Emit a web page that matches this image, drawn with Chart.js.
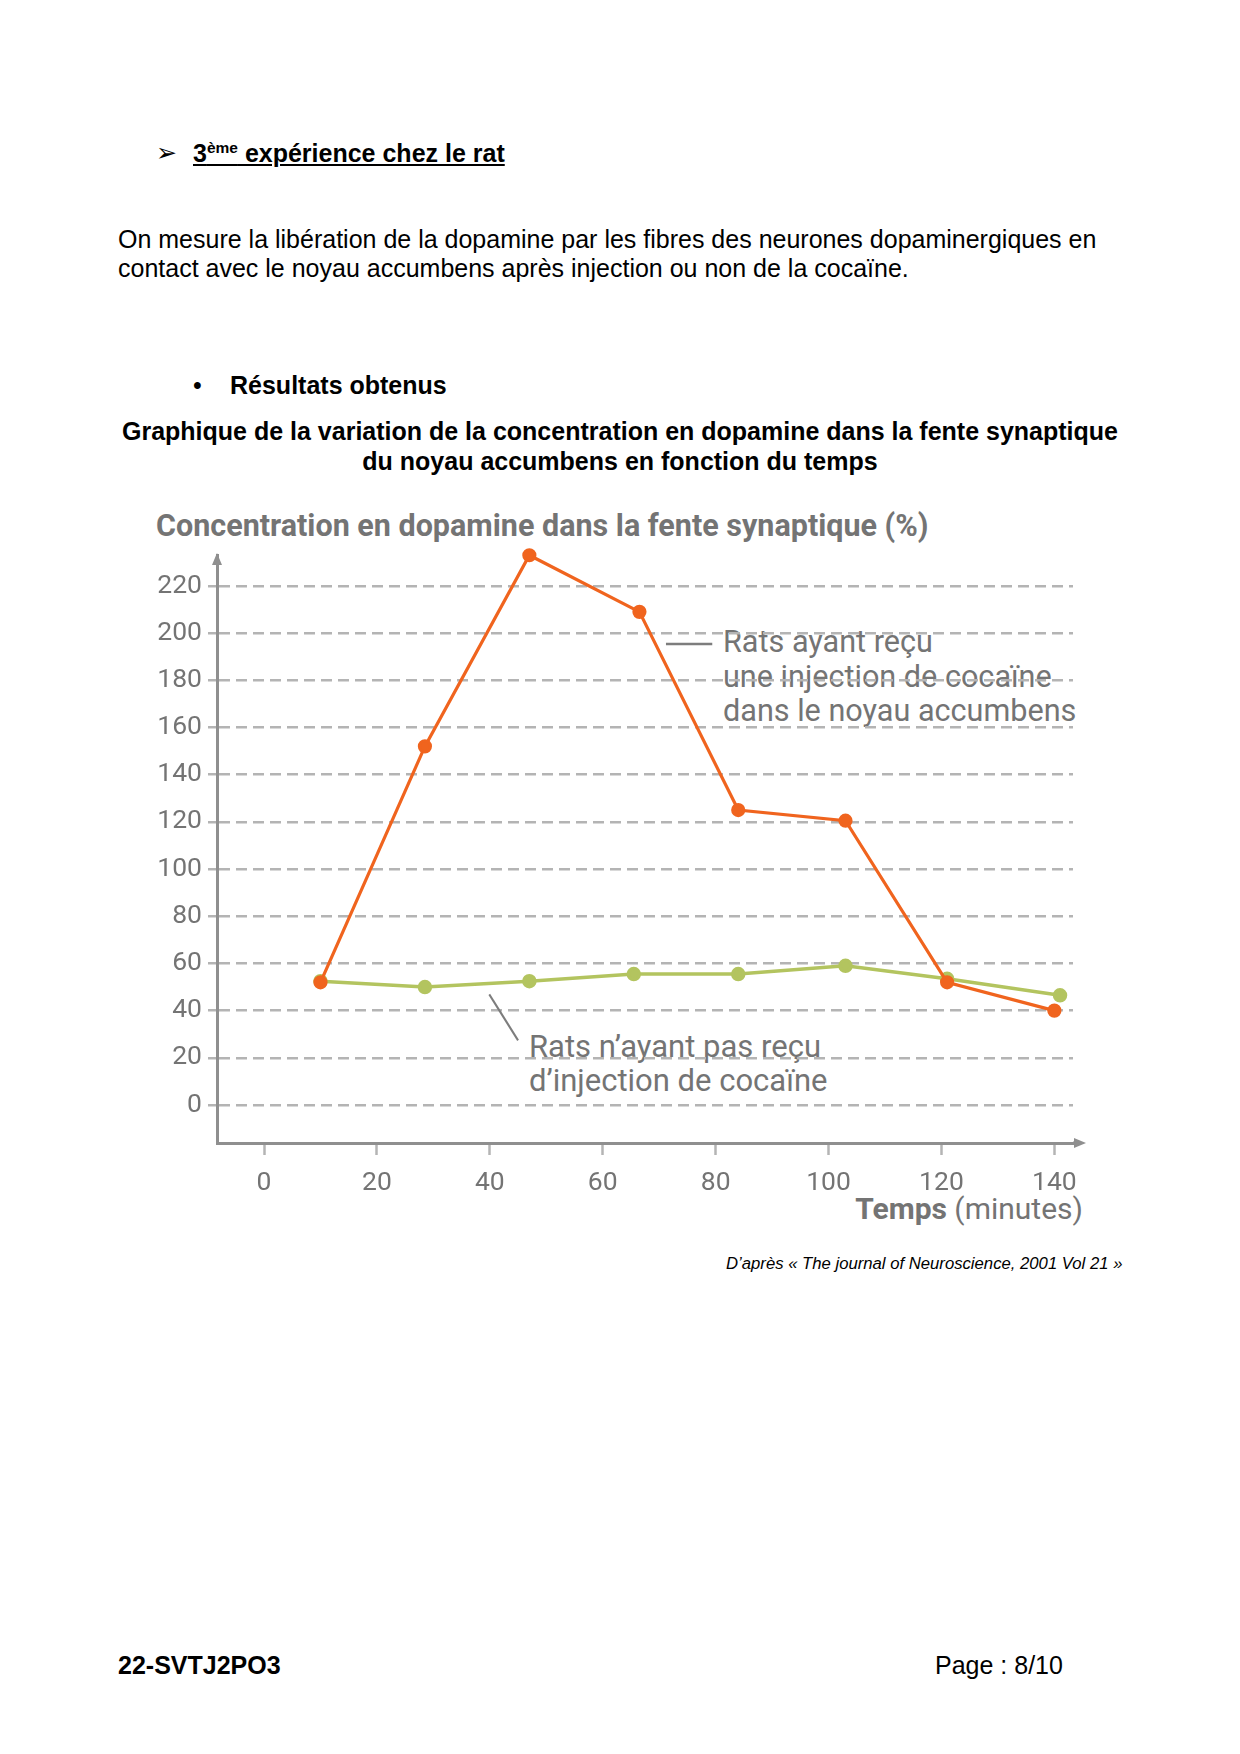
<!DOCTYPE html>
<html lang="fr">
<head>
<meta charset="utf-8">
<title>Dopamine - noyau accumbens</title>
<script src="https://cdn.jsdelivr.net/npm/chart.js@4.4.1/dist/chart.umd.min.js"></script>
<style>
  html, body { margin: 0; padding: 0; background: #fff; }
  body { width: 1240px; height: 1754px; position: relative; font-family: "Liberation Sans", Arial, sans-serif; color: #000; }
  .abs { position: absolute; white-space: nowrap; }
  .page { font-size: 25px; line-height: 1.15; }
  .chartTxt { font-family: Roboto, "Noto Sans", sans-serif; color: #747474; }
  #chartBox { position: absolute; left: 100px; top: 540px; width: 1000px; height: 663px; }
</style>
</head>
<body>

<!-- en-tete de la page -->
<div class="abs page" style="left:156px; top:138px; font-size:25px;">&#10146;</div>
<div class="abs page" style="left:193px; top:139px; font-weight:bold; text-decoration:underline;">3<sup style="font-size:15.5px; line-height:0;">ème</sup> expérience chez le rat</div>

<div class="abs page" style="left:118px; top:225px; line-height:29px; white-space:normal; width:1050px;">
  On mesure la libération de la dopamine par les fibres des neurones dopaminergiques en<br>
  contact avec le noyau accumbens après injection ou non de la cocaïne.
</div>

<div class="abs page" style="left:193px; top:370.5px;">&bull;</div>
<div class="abs page" style="left:230px; top:370.5px; font-weight:bold;">Résultats obtenus</div>

<div class="abs page" style="left:0; width:1240px; top:417px; line-height:29.5px; text-align:center; font-weight:bold;">
  Graphique de la variation de la concentration en dopamine dans la fente synaptique<br>
  du noyau accumbens en fonction du temps
</div>

<!-- textes du graphique -->
<div class="abs chartTxt" style="left:156px; top:508px; font-size:30.5px; line-height:1.172; font-weight:bold;">Concentration en dopamine dans la fente synaptique (%)</div>

<div class="abs chartTxt" style="left:723px; top:625px; font-size:30.6px; line-height:34.5px;">
  Rats ayant reçu<br>une injection de cocaïne<br>dans le noyau accumbens
</div>
<div class="abs chartTxt" style="left:529px; top:1030px; font-size:31px; line-height:34px;">
  Rats n’ayant pas reçu<br>d’injection de cocaïne
</div>
<div class="abs chartTxt" style="right:157px; top:1191px; font-size:30px; line-height:1.172;"><b>Temps</b> (minutes)</div>

<div id="chartBox"><canvas id="graphe"></canvas></div>

<!-- bas de page -->
<div class="abs" style="left:726px; top:1254px; font-size:16.7px; line-height:1.15; font-style:italic;">D’après « The journal of Neuroscience, 2001 Vol 21 »</div>
<div class="abs page" style="left:118px; top:1651px; font-weight:bold;">22-SVTJ2PO3</div>
<div class="abs page" style="left:935px; top:1651px;">Page : 8/10</div>

<script>
// --- Donnees ---
const tempsCocaine = [10, 28.5, 47, 66.5, 84, 103, 121, 140];
const dopamineCocaine = [52, 152, 233, 209, 125, 120.5, 52, 40];

const tempsTemoin = [10, 28.5, 47, 65.5, 84, 103, 121, 141];
const dopamineTemoin = [52.5, 50, 52.5, 55.5, 55.5, 59, 53.5, 46.5];

const ticksX = [0, 20, 40, 60, 80, 100, 120, 140];
const ticksY = [0, 20, 40, 60, 80, 100, 120, 140, 160, 180, 200, 220];

const orange = '#f0641e';
const vert = '#b3c45f';
const grisAxe = '#8f8f8f';
const grisGrille = '#b4b4b4';
const grisTexte = '#747474';

function points(xs, ys) {
    return xs.map(function(x, i) { return { x: x, y: ys[i] }; });
}

// fleches des axes + traits de rappel des legendes
const decorAxes = {
    id: 'decorAxes',
    afterDraw: function(chart) {
        const ctx = chart.ctx;
        const a = chart.chartArea;
        const sx = chart.scales.x;
        const sy = chart.scales.y;
        ctx.save();
        ctx.strokeStyle = grisAxe;
        ctx.fillStyle = grisAxe;
        ctx.lineWidth = 3;
        // prolongement de l'axe des x
        ctx.beginPath();
        ctx.moveTo(a.right, a.bottom);
        ctx.lineTo(a.right + 8, a.bottom);
        ctx.stroke();
        // fleche x
        ctx.beginPath();
        ctx.moveTo(a.right + 13, a.bottom);
        ctx.lineTo(a.right + 1, a.bottom - 5);
        ctx.lineTo(a.right + 1, a.bottom + 5);
        ctx.closePath();
        ctx.fill();
        // fleche y
        ctx.beginPath();
        ctx.moveTo(a.left, a.top - 2);
        ctx.lineTo(a.left - 5, a.top + 10);
        ctx.lineTo(a.left + 5, a.top + 10);
        ctx.closePath();
        ctx.fill();

        // traits de rappel
        ctx.strokeStyle = '#7d7d7d';
        ctx.lineWidth = 2.5;
        ctx.beginPath();
        ctx.moveTo(sx.getPixelForValue(71.2), sy.getPixelForValue(195.4));
        ctx.lineTo(sx.getPixelForValue(79.4), sy.getPixelForValue(195.4));
        ctx.stroke();
        ctx.lineWidth = 2;
        ctx.beginPath();
        ctx.moveTo(sx.getPixelForValue(39.9), sy.getPixelForValue(46.9));
        ctx.lineTo(sx.getPixelForValue(45.0), sy.getPixelForValue(27.4));
        ctx.stroke();
        ctx.restore();
    }
};

document.addEventListener('DOMContentLoaded', function() {
    const canvasElement = document.getElementById('graphe');
    if (!canvasElement) {
        console.error("Erreur : canvas 'graphe' introuvable.");
        return;
    }
    const ctx = canvasElement.getContext('2d');

    new Chart(ctx, {
        type: 'scatter',
        data: {
            datasets: [{
                label: 'Rats ayant reçu une injection de cocaïne dans le noyau accumbens',
                data: points(tempsCocaine, dopamineCocaine),
                showLine: true,
                borderColor: orange,
                backgroundColor: orange,
                borderWidth: 3.2,
                pointRadius: 5.5,
                pointHoverRadius: 5.5,
                clip: false
            }, {
                label: 'Rats n’ayant pas reçu d’injection de cocaïne',
                data: points(tempsTemoin, dopamineTemoin),
                showLine: true,
                borderColor: vert,
                backgroundColor: vert,
                borderWidth: 3.5,
                pointRadius: 5.5,
                pointHoverRadius: 5.5,
                clip: false
            }]
        },
        options: {
            responsive: true,
            maintainAspectRatio: false,
            animation: false,
            events: [],
            layout: { padding: { top: 15, right: 27, left: 0, bottom: 0 } },
            plugins: {
                legend: { display: false },
                tooltip: { enabled: false },
                title: { display: false }
            },
            scales: {
                x: {
                    type: 'linear',
                    min: -8.33,
                    max: 143.3,
                    afterBuildTicks: function(scale) {
                        scale.ticks = ticksX.map(function(v) { return { value: v }; });
                    },
                    afterFit: function(scale) {
                        scale.height = 60;
                        scale.paddingLeft = 0;
                        scale.paddingRight = 0;
                    },
                    grid: {
                        drawOnChartArea: false,
                        drawTicks: true,
                        tickLength: 12,
                        tickColor: grisGrille,
                        tickWidth: 2.5
                    },
                    border: { display: true, color: grisAxe, width: 3 },
                    ticks: {
                        color: grisTexte,
                        padding: 12,
                        maxRotation: 0,
                        autoSkip: false,
                        font: { family: 'Roboto', size: 26.5 }
                    }
                },
                y: {
                    type: 'linear',
                    min: -16.1,
                    max: 233.1,
                    afterBuildTicks: function(scale) {
                        scale.ticks = ticksY.map(function(v) { return { value: v }; });
                    },
                    afterFit: function(scale) {
                        scale.width = 117;
                        scale.paddingTop = 0;
                        scale.paddingBottom = 0;
                    },
                    grid: {
                        color: grisGrille,
                        lineWidth: 2.5,
                        drawTicks: true,
                        tickLength: 9,
                        tickColor: grisGrille,
                        tickWidth: 2.5
                    },
                    border: { display: true, color: grisAxe, width: 3, dash: [11, 6] },
                    ticks: {
                        color: grisTexte,
                        padding: 6,
                        autoSkip: false,
                        font: { family: 'Roboto', size: 26.5 }
                    }
                }
            }
        },
        plugins: [decorAxes]
    });
});
</script>
</body>
</html>
